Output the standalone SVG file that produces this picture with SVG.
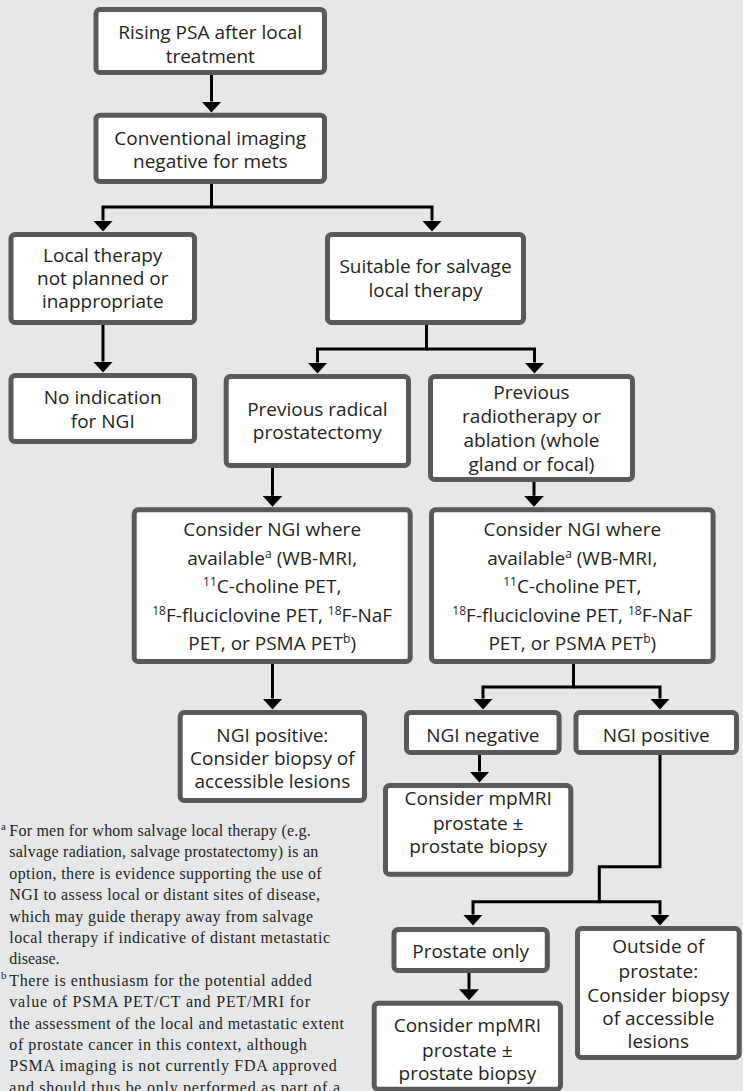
<svg xmlns="http://www.w3.org/2000/svg" width="743" height="1091" viewBox="0 0 743 1091">
<style>
.bx{fill:#ffffff;stroke:#58595b;stroke-width:5}
.t{font-family:"Open Sans","Liberation Sans",sans-serif;font-size:19px;fill:#231f20;text-anchor:middle}
.sup{font-size:12px}
.cn{fill:none;stroke:#000;stroke-width:3;stroke-linejoin:miter;marker-end:url(#ah)}
.fn{font-family:"Liberation Serif","DejaVu Serif",serif;font-size:16px;fill:#231f20}
.fs{font-family:"Liberation Serif","DejaVu Serif",serif;font-size:11px;fill:#231f20}
</style>
<defs>
<marker id="ah" markerUnits="userSpaceOnUse" viewBox="0 0 11 20" markerWidth="11" markerHeight="20" refX="0" refY="10" orient="auto">
<path d="M0,0 L11,10 L0,20 z" fill="#000"/>
</marker>
</defs>
<rect x="0" y="0" width="743" height="1091" fill="#e6e7e8"/>

<g id="connectors">
<path class="cn" d="M211.5,75 V101.5"/>
<path class="cn" d="M211.5,184 V207 H103 V220.5"/>
<path class="cn" d="M211.5,207 H432 V220.5"/>
<path class="cn" d="M103,325 V361.5"/>
<path class="cn" d="M426.5,325 V349 H317.5 V362.5"/>
<path class="cn" d="M426.5,349 H534.5 V362.5"/>
<path class="cn" d="M272.5,468 V495.8"/>
<path class="cn" d="M534,482 V495.8"/>
<path class="cn" d="M272.5,664 V698.5"/>
<path class="cn" d="M573.5,664 V687 H483 V698.5"/>
<path class="cn" d="M573.5,687 H660 V698.5"/>
<path class="cn" d="M479.5,755 V771.5"/>
<path class="cn" d="M660,755 V866.7 H599.3 V901.7 H473 V914.5"/>
<path class="cn" d="M599.3,901.7 H660 V914.5"/>
<path class="cn" d="M469,973 V989.2"/>
</g>

<g id="n1">
<rect class="bx" x="96" y="9.5" width="228.5" height="63" rx="4"/>
<text class="t" x="210.25" y="39">Rising PSA after local</text>
<text class="t" x="210.25" y="63">treatment</text>
</g>
<g id="n2">
<rect class="bx" x="96" y="115.2" width="228.5" height="66.3" rx="4"/>
<text class="t" x="210.25" y="145">Conventional imaging</text>
<text class="t" x="210.25" y="168">negative for mets</text>
</g>
<g id="n3">
<rect class="bx" x="11" y="234.5" width="183.5" height="88" rx="4"/>
<text class="t" x="102.75" y="262">Local therapy</text>
<text class="t" x="102.75" y="285">not planned or</text>
<text class="t" x="102.75" y="308">inappropriate</text>
</g>
<g id="n4">
<rect class="bx" x="327.5" y="234.5" width="196" height="88" rx="4"/>
<text class="t" x="425.5" y="273">Suitable for salvage</text>
<text class="t" x="425.5" y="297">local therapy</text>
</g>
<g id="n5">
<rect class="bx" x="11" y="375.5" width="183.5" height="66" rx="4"/>
<text class="t" x="102.75" y="404">No indication</text>
<text class="t" x="102.75" y="428">for NGI</text>
</g>
<g id="n6">
<rect class="bx" x="226.2" y="376.5" width="182.3" height="89" rx="4"/>
<text class="t" x="317.35" y="416">Previous radical</text>
<text class="t" x="317.35" y="439">prostatectomy</text>
</g>
<g id="n7">
<rect class="bx" x="430.5" y="376.5" width="202" height="103" rx="4"/>
<text class="t" x="531.5" y="399">Previous</text>
<text class="t" x="531.5" y="423">radiotherapy or</text>
<text class="t" x="531.5" y="447">ablation (whole</text>
<text class="t" x="531.5" y="471">gland or focal)</text>
</g>
<g id="n8">
<rect class="bx" x="134.2" y="509.8" width="276" height="151.7" rx="4"/>
<text class="t" x="272.2" y="536">Consider NGI where</text>
<text class="t" x="272.2" y="565">available<tspan class="sup" dy="-7">a</tspan><tspan dy="7"> (WB-MRI,</tspan></text>
<text class="t" x="272.2" y="593"><tspan class="sup" dy="-7">11</tspan><tspan dy="7">C-choline PET,</tspan></text>
<text class="t" x="272.2" y="621.5"><tspan class="sup" dy="-7">18</tspan><tspan dy="7">F-fluciclovine PET, </tspan><tspan class="sup" dy="-7">18</tspan><tspan dy="7">F-NaF</tspan></text>
<text class="t" x="272.2" y="650">PET, or PSMA PET<tspan class="sup" dy="-7">b</tspan><tspan dy="7">)</tspan></text>
</g>
<g id="n9">
<rect class="bx" x="431.5" y="509.8" width="281.6" height="151.7" rx="4"/>
<text class="t" x="572.3" y="536">Consider NGI where</text>
<text class="t" x="572.3" y="565">available<tspan class="sup" dy="-7">a</tspan><tspan dy="7"> (WB-MRI,</tspan></text>
<text class="t" x="572.3" y="593"><tspan class="sup" dy="-7">11</tspan><tspan dy="7">C-choline PET,</tspan></text>
<text class="t" x="572.3" y="621.5"><tspan class="sup" dy="-7">18</tspan><tspan dy="7">F-fluciclovine PET, </tspan><tspan class="sup" dy="-7">18</tspan><tspan dy="7">F-NaF</tspan></text>
<text class="t" x="572.3" y="650">PET, or PSMA PET<tspan class="sup" dy="-7">b</tspan><tspan dy="7">)</tspan></text>
</g>
<g id="n10">
<rect class="bx" x="180.2" y="712.5" width="184.3" height="88" rx="4"/>
<text class="t" x="272.35" y="742">NGI positive:</text>
<text class="t" x="272.35" y="765">Consider biopsy of</text>
<text class="t" x="272.35" y="788">accessible lesions</text>
</g>
<g id="n11">
<rect class="bx" x="406.5" y="712.5" width="152.6" height="40" rx="4"/>
<text class="t" x="482.8" y="742">NGI negative</text>
</g>
<g id="n12">
<rect class="bx" x="576" y="712.5" width="160.5" height="40" rx="4"/>
<text class="t" x="656.25" y="742">NGI positive</text>
</g>
<g id="n13">
<rect class="bx" x="385.5" y="785.5" width="185.3" height="88.7" rx="4"/>
<text class="t" x="478.15" y="805">Consider mpMRI</text>
<text class="t" x="478.15" y="830">prostate ±</text>
<text class="t" x="478.15" y="853">prostate biopsy</text>
</g>
<g id="n14">
<rect class="bx" x="394" y="929.5" width="153.3" height="41" rx="4"/>
<text class="t" x="470.65" y="958">Prostate only</text>
</g>
<g id="n15">
<rect class="bx" x="577.5" y="928.5" width="161.7" height="129" rx="4"/>
<text class="t" x="658.35" y="953">Outside of</text>
<text class="t" x="658.35" y="978">prostate:</text>
<text class="t" x="658.35" y="1002">Consider biopsy</text>
<text class="t" x="658.35" y="1025">of accessible</text>
<text class="t" x="658.35" y="1048">lesions</text>
</g>
<g id="n16">
<rect class="bx" x="374.2" y="1003.2" width="186.3" height="86" rx="4"/>
<text class="t" x="467.35" y="1031.7">Consider mpMRI</text>
<text class="t" x="467.35" y="1056.7">prostate ±</text>
<text class="t" x="467.35" y="1080">prostate biopsy</text>
</g>

<g id="footnotes">
<text class="fs" x="1" y="830">a</text>
<text class="fn" x="9.3" y="836" textLength="301.4" lengthAdjust="spacing">For men for whom salvage local therapy (e.g.</text>
<text class="fn" x="9.3" y="857.4" textLength="309" lengthAdjust="spacing">salvage radiation, salvage prostatectomy) is an</text>
<text class="fn" x="9.3" y="878.8" textLength="312.4" lengthAdjust="spacing">option, there is evidence supporting the use of</text>
<text class="fn" x="9.3" y="900.2" textLength="310.7" lengthAdjust="spacing">NGI to assess local or distant sites of disease,</text>
<text class="fn" x="9.3" y="921.6" textLength="303.7" lengthAdjust="spacing">which may guide therapy away from salvage</text>
<text class="fn" x="9.3" y="943" textLength="320.7" lengthAdjust="spacing">local therapy if indicative of distant metastatic</text>
<text class="fn" x="9.3" y="964.4">disease.</text>
<text class="fs" x="1" y="979">b</text>
<text class="fn" x="9.3" y="985.8" textLength="302.4" lengthAdjust="spacing">There is enthusiasm for the potential added</text>
<text class="fn" x="9.3" y="1007.2" textLength="300.7" lengthAdjust="spacing">value of PSMA PET/CT and PET/MRI for</text>
<text class="fn" x="9.3" y="1028.6" textLength="334.7" lengthAdjust="spacing">the assessment of the local and metastatic extent</text>
<text class="fn" x="9.3" y="1050" textLength="297.4" lengthAdjust="spacing">of prostate cancer in this context, although</text>
<text class="fn" x="9.3" y="1071.4" textLength="327.4" lengthAdjust="spacing">PSMA imaging is not currently FDA approved</text>
<text class="fn" x="9.3" y="1092.8" textLength="330.7" lengthAdjust="spacing">and should thus be only performed as part of a</text>
</g>
</svg>
